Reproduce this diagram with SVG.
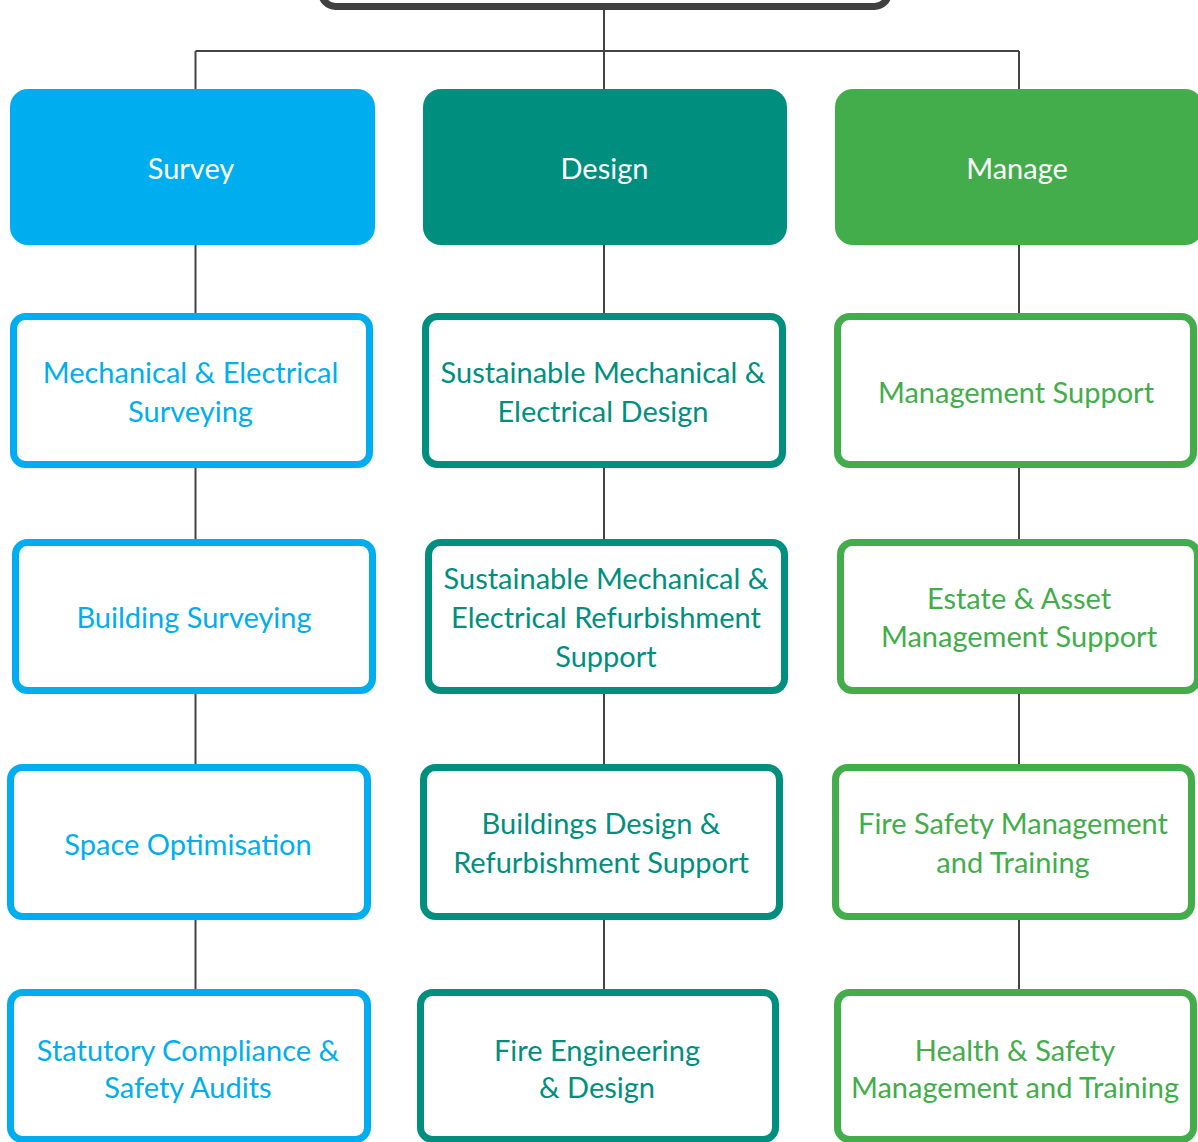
<svg xmlns="http://www.w3.org/2000/svg" width="1198" height="1142" viewBox="0 0 1198 1142">
<style>
  .conn { stroke:#444444; stroke-width:2; fill:none; }
  .top { fill:#ffffff; stroke:#404040; stroke-width:7; }
  .head { stroke:none; }
  .sub { fill:#ffffff; stroke-width:7; }
  .blue { fill:#00AEEF; } .teal { fill:#008F7E; } .green { fill:#42AD4A; }
  .sb { stroke:#00AEEF; } .st { stroke:#008F7E; } .sg { stroke:#42AD4A; }
  text { font-family:"Lato","Open Sans","Liberation Sans",sans-serif; font-size:29px; text-anchor:middle; }
  .ht { fill:#ffffff; }
  .tb { fill:#00AEEF; } .tt { fill:#008F7E; } .tg { fill:#42AD4A; }
</style>
<rect width="1198" height="1142" fill="#ffffff"/>
<g id="connectors">
  <path class="conn" d="M604 10V51M195.5 51H1019M195.5 51V89M604 51V89M1019 51V89"/>
  <path class="conn" d="M195.5 245V313M195.5 468V539M195.5 694V764M195.5 920V989"/>
  <path class="conn" d="M604 245V313M604 468V539M604 694V764M604 920V989"/>
  <path class="conn" d="M1019 245V313M1019 468V539M1019 694V764M1019 920V989"/>
</g>
<g id="root"><rect class="top" x="321.5" y="-50" width="567" height="56.5" rx="14"/></g>
<g id="survey"><rect class="head blue" x="10" y="89" width="365" height="156" rx="18"/><text class="ht" x="191" y="179">Survey</text></g>
<g id="design"><rect class="head teal" x="423" y="89" width="364" height="156" rx="18"/><text class="ht" x="604.5" y="179">Design</text></g>
<g id="manage"><rect class="head green" x="835" y="89" width="368" height="156" rx="18"/><text class="ht" x="1017" y="179">Manage</text></g>

<g id="mech-elec-surveying"><rect class="sub sb" x="13.5" y="316.5" width="356" height="148" rx="12"/><text class="tb" x="190.5" y="383">Mechanical &amp; Electrical</text><text class="tb" x="190.5" y="422">Surveying</text></g>
<g id="building-surveying"><rect class="sub sb" x="15.5" y="542.5" width="357" height="148" rx="12"/><text class="tb" x="194" y="628">Building Surveying</text></g>
<g id="space-optimisation"><rect class="sub sb" x="10.5" y="767.5" width="357" height="149" rx="12"/><text class="tb" x="188" y="855">Space Optimisation</text></g>
<g id="statutory-compliance"><rect class="sub sb" x="10.5" y="992.5" width="357" height="147" rx="12"/><text class="tb" x="188" y="1061">Statutory Compliance &amp;</text><text class="tb" x="188" y="1098">Safety Audits</text></g>

<g id="sustainable-me-design"><rect class="sub st" x="425.5" y="316.5" width="357" height="148" rx="12"/><text class="tt" x="603" y="383">Sustainable Mechanical &amp;</text><text class="tt" x="603" y="422">Electrical Design</text></g>
<g id="sustainable-me-refurb"><rect class="sub st" x="428.5" y="542.5" width="356" height="148" rx="12"/><text class="tt" x="606" y="589">Sustainable Mechanical &amp;</text><text class="tt" x="606" y="628">Electrical Refurbishment</text><text class="tt" x="606" y="667">Support</text></g>
<g id="buildings-design"><rect class="sub st" x="423.5" y="767.5" width="356" height="149" rx="12"/><text class="tt" x="601" y="834">Buildings Design &amp;</text><text class="tt" x="601" y="873">Refurbishment Support</text></g>
<g id="fire-engineering"><rect class="sub st" x="420.5" y="992.5" width="355" height="147" rx="12"/><text class="tt" x="597" y="1061">Fire Engineering</text><text class="tt" x="597" y="1098">&amp; Design</text></g>

<g id="management-support"><rect class="sub sg" x="837.5" y="316.5" width="356" height="148" rx="12"/><text class="tg" x="1016" y="403">Management Support</text></g>
<g id="estate-asset"><rect class="sub sg" x="840.5" y="542.5" width="357" height="148" rx="12"/><text class="tg" x="1019" y="609">Estate &amp; Asset</text><text class="tg" x="1019" y="647">Management Support</text></g>
<g id="fire-safety"><rect class="sub sg" x="835.5" y="767.5" width="356" height="149" rx="12"/><text class="tg" x="1013" y="834">Fire Safety Management</text><text class="tg" x="1013" y="873">and Training</text></g>
<g id="health-safety"><rect class="sub sg" x="837.5" y="992.5" width="356" height="147" rx="12"/><text class="tg" x="1015" y="1061">Health &amp; Safety</text><text class="tg" x="1015" y="1098">Management and Training</text></g>
</svg>
